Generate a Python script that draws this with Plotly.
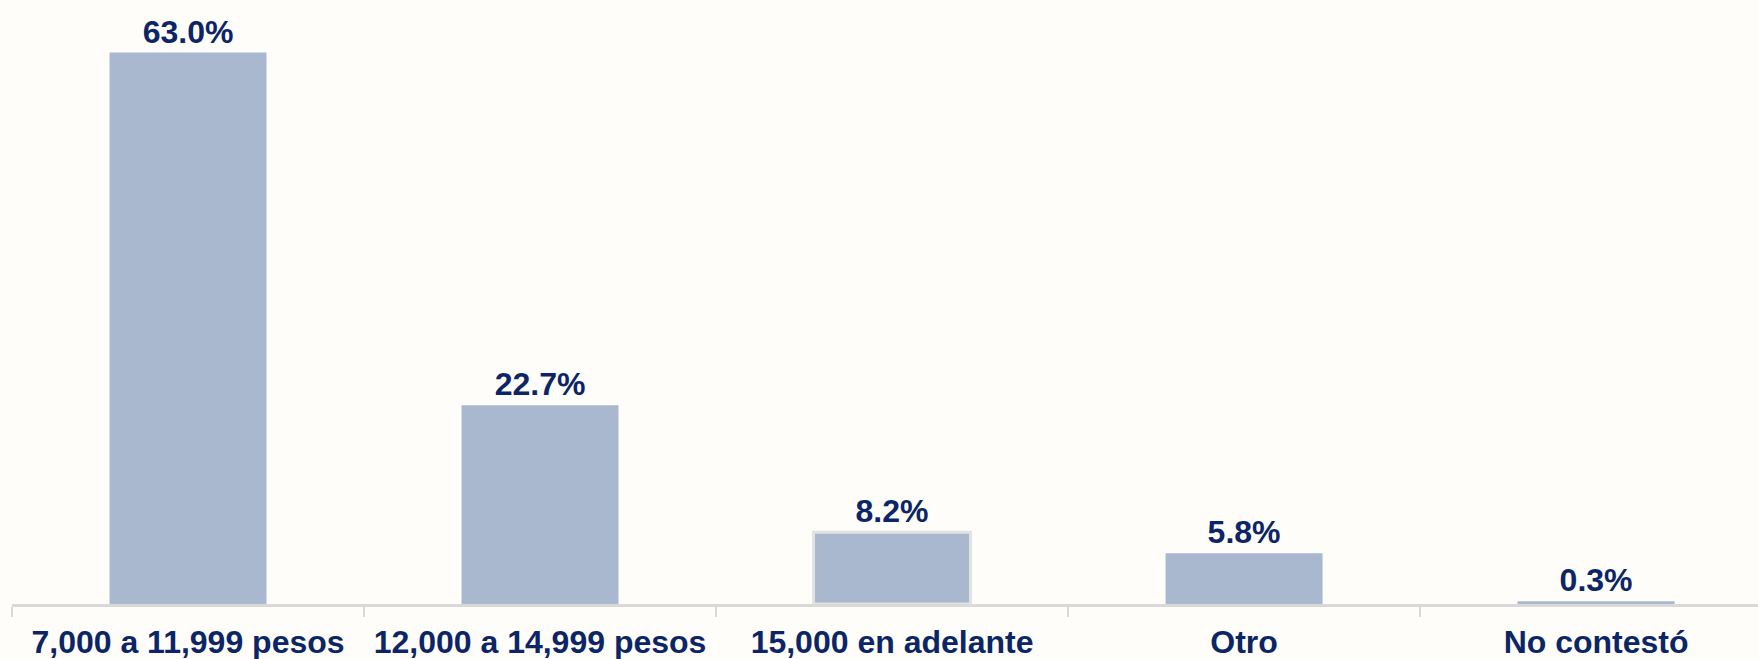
import plotly.graph_objects as go

categorias = ["7,000 a 11,999 pesos", "12,000 a 14,999 pesos", "15,000 en adelante", "Otro", "No contestó"]
porcentajes = [63.0, 22.7, 8.2, 5.8, 0.3]
etiquetas = ["63.0%", "22.7%", "8.2%", "5.8%", "0.3%"]

navy = "#0b2566"
bar_color = "#a9b8cf"
bg = "#fefdfa"

# only the third bar has the light grey outline in the original
line_colors = ["rgba(0,0,0,0)", "rgba(0,0,0,0)", "#e2e2e2", "rgba(0,0,0,0)", "rgba(0,0,0,0)"]
line_widths = [0, 0, 3, 0, 0]

fuente = dict(family="Liberation Sans, Arial, sans-serif", size=32, color=navy, weight="bold")

fig = go.Figure(
    go.Bar(
        x=categorias,
        y=porcentajes,
        text=etiquetas,
        textposition="outside",
        cliponaxis=False,
        textfont=fuente,
        marker=dict(color=bar_color, line=dict(color=line_colors, width=line_widths)),
        width=0.446,
    )
)

fig.update_layout(
    width=1758,
    height=659,
    margin=dict(l=12, r=0, t=0, b=55),
    paper_bgcolor=bg,
    plot_bgcolor=bg,
    showlegend=False,
    font=fuente,
)
fig.update_xaxes(
    range=[-0.5, 4.46],
    showline=True,
    linecolor="#d9d9d9",
    linewidth=3,
    layer="above traces",
    ticks="outside",
    tickson="boundaries",
    ticklen=10,
    tickwidth=2,
    tickcolor="#d9d9d9",
    tickfont=fuente,
    ticklabelstandoff=8,
    showgrid=False,
    automargin=False,
)
fig.update_yaxes(range=[0, 69.0], visible=False, showgrid=False)

# drop the browser's default body margin so the chart fills the window
fig.write_html(
    "out.html",
    config={"displayModeBar": False},
    post_script="document.body.style.margin='0';document.body.style.background='%s';" % bg,
)
